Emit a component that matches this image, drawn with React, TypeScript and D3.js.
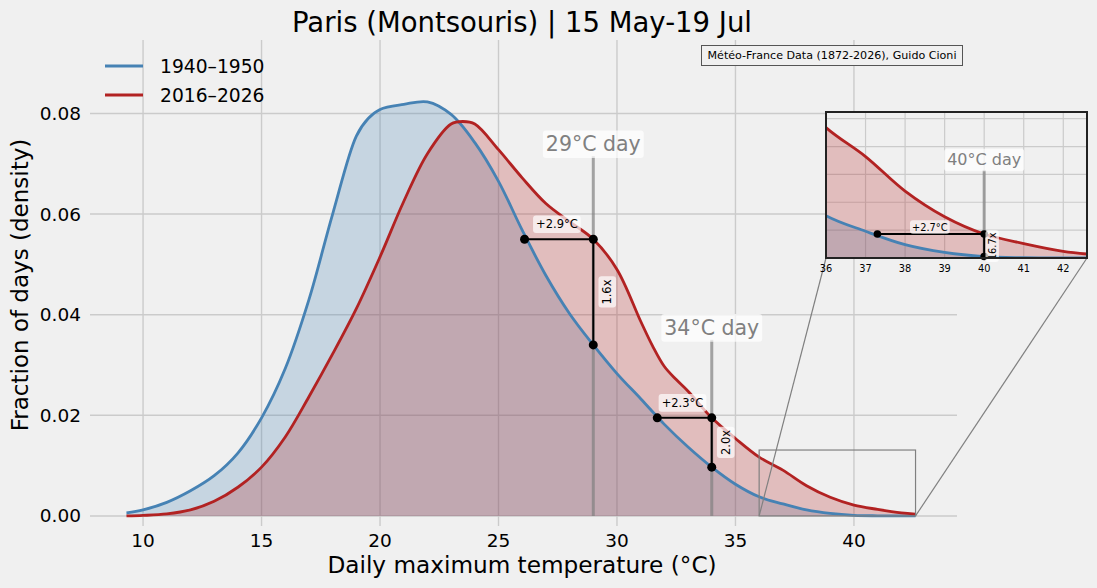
import React, { useLayoutEffect, useRef, useState } from "react";
import * as d3 from "d3";

// ---------- data ----------
const periods = ["1940–1950", "2016–2026"];
const periodColors = ["#4682b4", "#b22222"];

const tempsEarly = [9.3, 10, 11, 12, 13, 14, 15, 16, 17, 18, 19, 19.5, 20, 21, 22, 23, 24, 25, 26, 27, 28, 29, 30, 31, 32, 33, 34, 35, 36, 37, 38, 39, 40, 41, 42, 42.6];
const densEarly = [0.0006, 0.0012, 0.0027, 0.005, 0.008, 0.0125, 0.0195, 0.0293, 0.043, 0.06, 0.0755, 0.079, 0.0808, 0.0818, 0.0823, 0.0798, 0.0742, 0.0665, 0.0568, 0.0478, 0.0402, 0.034, 0.0283, 0.0233, 0.0182, 0.0137, 0.0097, 0.0063, 0.0038, 0.0024, 0.0012, 0.0005, 0.00013, 0.00003, 0.0, 0.0];

const tempsLate = [9.3, 10, 11, 12, 13, 14, 15, 16, 17, 18, 19, 20, 21, 22, 23, 23.5, 24, 25, 26, 27, 28, 29, 30, 31, 31.5, 32, 32.5, 33, 34, 35, 36, 37, 38, 39, 40, 41, 42, 42.6];
const densLate = [0.0, 0.0001, 0.0004, 0.0012, 0.0029, 0.0057, 0.0097, 0.0157, 0.0237, 0.0322, 0.0412, 0.0515, 0.0625, 0.072, 0.0779, 0.0784, 0.0779, 0.0728, 0.0672, 0.0621, 0.0585, 0.055, 0.049, 0.0387, 0.0338, 0.0297, 0.0271, 0.0248, 0.0195, 0.0154, 0.0117, 0.0091, 0.006, 0.0037, 0.00215, 0.0013, 0.0006, 0.00036];

// threshold-day annotations (main axes)
const dayTemps = [29, 34];
const dayShifts = [2.9, 2.3];
const dayLateDens = [0.055, 0.0195];
const dayEarlyDens = [0.034, 0.0097];
const dayRatios = ["1.6x", "2.0x"];
const dayLineTops = [0.0715, 0.035];

// inset annotation
const insetDay = 40;
const insetShift = 2.7;
const insetLateDens = 0.00215;
const insetEarlyDens = 0.000128;
const insetRatio = "16.7x";
const insetLineTop = 0.0079;

const xTicks = [10, 15, 20, 25, 30, 35, 40];
const yTicks = [0, 0.02, 0.04, 0.06, 0.08];
const insetXTicks = [36, 37, 38, 39, 40, 41, 42];
const insetYGrid = [0.0025, 0.005, 0.0075, 0.01, 0.0125];
const insetXDomain = [36, 42.6];
const insetYDomain = [0, 0.0131];

const titleText = "Paris (Montsouris) | 15 May-19 Jul";
const xLabel = "Daily maximum temperature (°C)";
const yLabel = "Fraction of days (density)";
const sourceText = "Météo-France Data (1872-2026), Guido Cioni";

// ---------- layout ----------
const W = 1097;
const H = 588;
const FONT = "DejaVu Sans, sans-serif";
const BG = "#f0f0f0";
const GRID = "#cbcbcb";

type BoxProps = {
  x: number; y: number; text: string; fontSize: number; color?: string;
  rotate?: number; pad?: number; opacity?: number;
};

function BoxedText({ x, y, text, fontSize, color = "#000", rotate = 0, pad = 3, opacity = 0.7 }: BoxProps) {
  const ref = useRef<SVGTextElement>(null);
  const [bb, setBb] = useState<{ x: number; y: number; w: number; h: number } | null>(null);
  useLayoutEffect(() => {
    if (ref.current) {
      const b = ref.current.getBBox();
      setBb({ x: b.x, y: b.y, w: b.width, h: b.height });
    }
  }, [text, fontSize]);
  return (
    <g transform={`translate(${x},${y}) rotate(${rotate})`}>
      {bb && (
        <rect x={bb.x - pad} y={bb.y - pad * 0.6} width={bb.w + 2 * pad} height={bb.h + pad * 1.2}
          rx={3} fill="#ffffff" fillOpacity={opacity} />
      )}
      <text ref={ref} textAnchor="middle" dominantBaseline="central" fontSize={fontSize}
        fill={color} fontFamily={FONT}>{text}</text>
    </g>
  );
}

export default function App() {
  const x = d3.scaleLinear().domain([7.76, 44.35]).range([90, 957]);
  const y = d3.scaleLinear().domain([-0.002, 0.0946]).range([526, 40]);

  const ix = d3.scaleLinear().domain(insetXDomain).range([826, 1087]);
  const iy = d3.scaleLinear().domain(insetYDomain).range([258, 112]);

  const seriesT = [tempsEarly, tempsLate];
  const seriesD = [densEarly, densLate];
  const curve = d3.curveCatmullRom.alpha(0.5);

  const pathsFor = (sx: d3.ScaleLinear<number, number>, sy: d3.ScaleLinear<number, number>) =>
    seriesT.map((ts, s) => {
      const pts: [number, number][] = ts.map((t, i) => [t, seriesD[s][i]]);
      const line = d3.line<[number, number]>().x(d => sx(d[0])).y(d => sy(d[1])).curve(curve);
      const area = d3.area<[number, number]>().x(d => sx(d[0])).y0(sy(0)).y1(d => sy(d[1])).curve(curve);
      return { line: line(pts) || "", area: area(pts) || "" };
    });

  const mainPaths = pathsFor(x, y);
  const insetPaths = pathsFor(ix, iy);

  const [ix0, ix1] = ix.range();
  const [iyB, iyT] = iy.range();

  return (
    <svg width={W} height={H} style={{ position: "absolute", left: 0, top: 0 }} fontFamily={FONT}>
      <rect x={0} y={0} width={W} height={H} fill={BG} />

      {/* grid */}
      {yTicks.map(t => (
        <line key={"gy" + t} x1={90} x2={957} y1={y(t)} y2={y(t)} stroke={GRID} strokeWidth={1.4} />
      ))}
      {xTicks.map(t => (
        <line key={"gx" + t} x1={x(t)} x2={x(t)} y1={40} y2={526} stroke={GRID} strokeWidth={1.4} />
      ))}

      {/* tick labels */}
      {yTicks.map(t => (
        <text key={"ty" + t} x={81} y={y(t)} dy="0.35em" textAnchor="end" fontSize={18.5} fill="#000">
          {d3.format(".2f")(t)}
        </text>
      ))}
      {xTicks.map(t => (
        <text key={"tx" + t} x={x(t)} y={547} textAnchor="middle" fontSize={18.5} fill="#000">{t}</text>
      ))}

      {/* fills */}
      {mainPaths.map((p, s) => (
        <path key={"a" + s} d={p.area} fill={periodColors[s]} fillOpacity={0.25} />
      ))}

      {/* threshold vertical lines */}
      {dayTemps.map((d, i) => (
        <line key={"vl" + d} x1={x(d)} x2={x(d)} y1={y(0)} y2={y(dayLineTops[i])}
          stroke="#808080" strokeOpacity={0.7} strokeWidth={3} />
      ))}

      {/* curves */}
      {mainPaths.map((p, s) => (
        <path key={"l" + s} d={p.line} fill="none" stroke={periodColors[s]} strokeWidth={2.8} />
      ))}

      {/* inset indicator rectangle */}
      <rect x={x(insetXDomain[0])} y={y(insetYDomain[1])} width={x(insetXDomain[1]) - x(insetXDomain[0])}
        height={y(insetYDomain[0]) - y(insetYDomain[1])} fill="none" stroke="#808080" strokeWidth={1.2} />
      <line x1={x(insetXDomain[0])} y1={y(0)} x2={ix0} y2={iyB} stroke="#808080" strokeWidth={1.2} />
      <line x1={x(insetXDomain[1])} y1={y(0)} x2={ix1} y2={iyB} stroke="#808080" strokeWidth={1.2} />

      {/* annotations */}
      {dayTemps.map((d, i) => {
        const xs = x(d - dayShifts[i]);
        const xd = x(d);
        const yl = y(dayLateDens[i]);
        const ye = y(dayEarlyDens[i]);
        return (
          <g key={"ann" + d}>
            <line x1={xs} x2={xd} y1={yl} y2={yl} stroke="#000" strokeWidth={2} />
            <line x1={xd} x2={xd} y1={yl} y2={ye} stroke="#000" strokeWidth={2} />
            <circle cx={xs} cy={yl} r={4.5} fill="#000" />
            <circle cx={xd} cy={yl} r={4.5} fill="#000" />
            <circle cx={xd} cy={ye} r={4.5} fill="#000" />
            <BoxedText x={(xs + xd) / 2 - 2} y={yl - 15} text={`+${dayShifts[i].toFixed(1)}°C`} fontSize={11.5} />
            <BoxedText x={xd + 14} y={(yl + ye) / 2} text={dayRatios[i]} fontSize={11.5} rotate={-90} />
            <BoxedText x={xd} y={y(dayLineTops[i]) - 12} text={`${d}°C day`} fontSize={20.5} color="#808080" />
          </g>
        );
      })}

      {/* legend */}
      {periods.map((p, i) => (
        <g key={"lg" + i}>
          <line x1={105} x2={143} y1={66 + i * 29} y2={66 + i * 29} stroke={periodColors[i]} strokeWidth={3} />
          <text x={160} y={66 + i * 29} dy="0.36em" fontSize={18.7} fill="#000">{p}</text>
        </g>
      ))}

      {/* title and axis labels */}
      <text x={522} y={32} textAnchor="middle" fontSize={27.5} fill="#000">{titleText}</text>
      <text x={522} y={573} textAnchor="middle" fontSize={23.2} fill="#000">{xLabel}</text>
      <text transform={`translate(28,285) rotate(-90)`} textAnchor="middle" fontSize={23} fill="#000">{yLabel}</text>

      {/* source box */}
      <rect x={701.5} y={45.5} width={261} height={20} fill={BG} stroke="#555" strokeWidth={1} />
      <text x={832} y={55.5} dy="0.35em" textAnchor="middle" fontSize={11.1} fill="#000">{sourceText}</text>

      {/* inset */}
      <defs>
        <clipPath id="insetClip">
          <rect x={ix0} y={iyT} width={ix1 - ix0} height={iyB - iyT} />
        </clipPath>
      </defs>
      <rect x={ix0} y={iyT} width={ix1 - ix0} height={iyB - iyT} fill={BG} />
      <g clipPath="url(#insetClip)">
        {insetYGrid.map(t => (
          <line key={"igy" + t} x1={ix0} x2={ix1} y1={iy(t)} y2={iy(t)} stroke={GRID} strokeWidth={1.2} />
        ))}
        {insetXTicks.map(t => (
          <line key={"igx" + t} x1={ix(t)} x2={ix(t)} y1={iyT} y2={iyB} stroke={GRID} strokeWidth={1.2} />
        ))}
        {insetPaths.map((p, s) => (
          <path key={"ia" + s} d={p.area} fill={periodColors[s]} fillOpacity={0.25} />
        ))}
        <line x1={ix(insetDay)} x2={ix(insetDay)} y1={iy(0)} y2={iy(insetLineTop)}
          stroke="#808080" strokeOpacity={0.7} strokeWidth={3} />
        {insetPaths.map((p, s) => (
          <path key={"il" + s} d={p.line} fill="none" stroke={periodColors[s]} strokeWidth={2.8} />
        ))}
      </g>
      {(() => {
        const xs = ix(insetDay - insetShift);
        const xd = ix(insetDay);
        const yl = iy(insetLateDens);
        const ye = iy(insetEarlyDens);
        return (
          <g>
            <line x1={xs} x2={xd} y1={yl} y2={yl} stroke="#000" strokeWidth={2} />
            <line x1={xd} x2={xd} y1={yl} y2={ye} stroke="#000" strokeWidth={2} />
            <circle cx={xs} cy={yl} r={3.8} fill="#000" />
            <circle cx={xd} cy={yl} r={3.8} fill="#000" />
            <circle cx={xd} cy={ye} r={3.8} fill="#000" />
            <BoxedText x={(xs + xd) / 2 - 1} y={yl - 7} text={`+${insetShift.toFixed(1)}°C`} fontSize={9.8} pad={2} />
            <BoxedText x={xd + 8} y={(yl + ye) / 2 + 1} text={insetRatio} fontSize={9.8} rotate={-90} pad={2} />
            <BoxedText x={xd} y={iy(insetLineTop) - 10} text={`${insetDay}°C day`} fontSize={16} color="#808080" />
          </g>
        );
      })()}
      <rect x={ix0} y={iyT} width={ix1 - ix0} height={iyB - iyT} fill="none" stroke="#222" strokeWidth={2} />
      {insetXTicks.map(t => (
        <text key={"itx" + t} x={ix(t)} y={272} textAnchor="middle" fontSize={9.8} fill="#000">{t}</text>
      ))}
    </svg>
  );
}
